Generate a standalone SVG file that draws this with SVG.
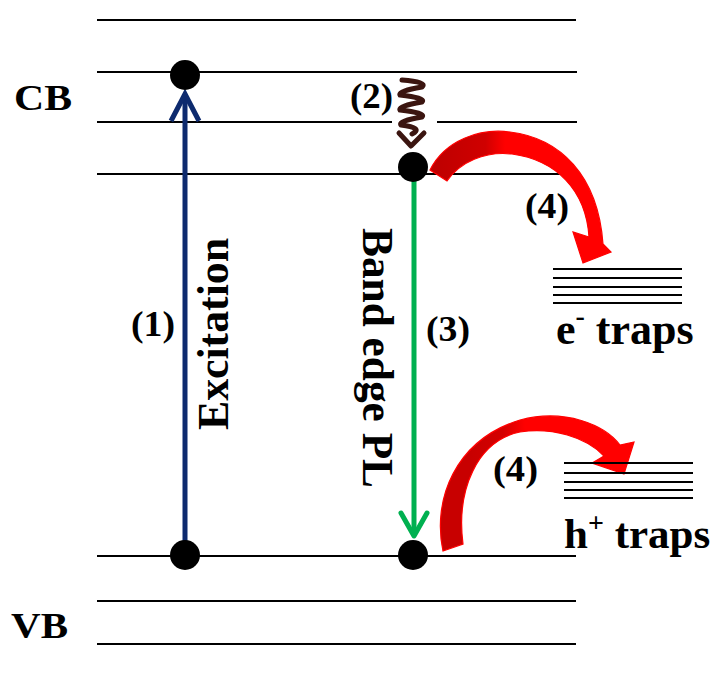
<svg xmlns="http://www.w3.org/2000/svg" width="716" height="686" viewBox="0 0 716 686">
  <style>
    .lvl { stroke: #000; stroke-width: 1.8; fill: none; }
    .trap { stroke: #000; stroke-width: 2; fill: none; }
    .dot { fill: #000; }
    .lbl { font-family: "Liberation Serif", "Times New Roman", serif; font-weight: bold; fill: #000; }
  </style>
  <defs>
    <linearGradient id="redUp" gradientUnits="userSpaceOnUse" x1="440" y1="0" x2="505" y2="0">
      <stop offset="0" stop-color="#c00000"/>
      <stop offset="0.7" stop-color="#d00000"/>
      <stop offset="1" stop-color="#ff0000"/>
    </linearGradient>
    <linearGradient id="redLow" gradientUnits="userSpaceOnUse" x1="470" y1="0" x2="525" y2="0">
      <stop offset="0" stop-color="#c80000"/>
      <stop offset="0.6" stop-color="#d40000"/>
      <stop offset="1" stop-color="#ff0000"/>
    </linearGradient>
  </defs>

  <!-- energy levels -->
  <g id="levels">
    <line class="lvl" x1="97" y1="20" x2="576" y2="20"/>
    <line class="lvl" x1="97" y1="72" x2="577" y2="72"/>
    <line class="lvl" x1="97" y1="122" x2="392" y2="122"/>
    <line class="lvl" x1="437" y1="122" x2="577" y2="122"/>
    <line class="lvl" x1="97" y1="174" x2="577" y2="174"/>
    <line class="lvl" x1="97" y1="556" x2="576" y2="556"/>
    <line class="lvl" x1="97" y1="601" x2="576" y2="601"/>
    <line class="lvl" x1="97" y1="644" x2="576" y2="644"/>
  </g>

  <g id="band-labels">
    <text class="lbl" x="14" y="110" font-size="36" textLength="58" lengthAdjust="spacingAndGlyphs">CB</text>
    <text class="lbl" x="11" y="638" font-size="36" textLength="57" lengthAdjust="spacingAndGlyphs">VB</text>
  </g>

  <!-- transitions -->
  <g id="connectors">
    <g id="excitation">
      <line x1="185" y1="556" x2="185" y2="96" stroke="#0d2a6e" stroke-width="5"/>
      <polyline points="171,121 185,94 199,121" fill="none" stroke="#0d2a6e" stroke-width="5" stroke-linejoin="miter"/>
    </g>
    <g id="band-edge-pl">
      <line x1="414" y1="180" x2="414" y2="535" stroke="#00b050" stroke-width="5"/>
      <polyline points="401,513 414,536 427,513" fill="none" stroke="#00b050" stroke-width="5" stroke-linecap="round" stroke-linejoin="round"/>
    </g>
    <g id="relaxation">
      <path d="M402,80 Q428,82 422,87 Q398,91 400,95 Q426,98 422,102 Q398,106 400,110 Q426,113 422,117 Q398,121 401,125 Q424,128 412,134" fill="none" stroke="#3b1510" stroke-width="5" stroke-linecap="round"/>
      <polyline points="399,133 411,146 424,133" fill="none" stroke="#3b1510" stroke-width="5" stroke-linecap="round" stroke-linejoin="round"/>
    </g>
    <g id="trap-electron">
      <path d="M430,170 C445,140 480,128 510,132 C560,138 598,175 603,244 L611,252 L583,263 L573,232 L589,237 C586,190 556,160 512,154 C485,151 460,162 447,181 Z" fill="url(#redUp)" stroke="#ff0000" stroke-width="1.2"/>
    </g>
    <g id="trap-hole">
      <path d="M443,551 C432,500 455,440 520,420 C565,408 605,425 620,445 L634,442 L624,474 L592,463 L604,456 C586,437 552,427 520,432 C477,441 456,490 463,544 Z" fill="url(#redLow)" stroke="#ff0000" stroke-width="1.2"/>
    </g>
  </g>

  <!-- carriers -->
  <g id="carriers">
    <circle class="dot" cx="185" cy="75" r="15"/>
    <circle class="dot" cx="413" cy="167" r="15"/>
    <circle class="dot" cx="185" cy="555" r="15"/>
    <circle class="dot" cx="413" cy="555" r="15"/>
  </g>

  <g id="step-labels">
    <text class="lbl" x="131" y="336" font-size="35" textLength="44" lengthAdjust="spacingAndGlyphs">(1)</text>
    <text class="lbl" x="350" y="108" font-size="35" textLength="43" lengthAdjust="spacingAndGlyphs">(2)</text>
    <text class="lbl" x="426" y="341" font-size="35" textLength="44" lengthAdjust="spacingAndGlyphs">(3)</text>
    <text class="lbl" x="525" y="218" font-size="35" textLength="44" lengthAdjust="spacingAndGlyphs">(4)</text>
    <text class="lbl" x="493" y="481" font-size="35" textLength="45" lengthAdjust="spacingAndGlyphs">(4)</text>
    <text class="lbl" font-size="44" transform="translate(228,430) rotate(-90)" textLength="192" lengthAdjust="spacingAndGlyphs">Excitation</text>
    <text class="lbl" font-size="44" transform="translate(363,228) rotate(90)" textLength="260" lengthAdjust="spacingAndGlyphs">Band edge PL</text>
  </g>

  <g id="electron-traps">
    <line class="trap" x1="553" y1="269" x2="682" y2="269"/>
    <line class="trap" x1="553" y1="278" x2="682" y2="278"/>
    <line class="trap" x1="553" y1="287" x2="682" y2="287"/>
    <line class="trap" x1="553" y1="295" x2="682" y2="295"/>
    <line class="trap" x1="553" y1="303" x2="682" y2="303"/>
    <text class="lbl" x="556" y="344" font-size="44">e<tspan font-size="28" dy="-19">-</tspan><tspan dy="19"> traps</tspan></text>
  </g>

  <g id="hole-traps">
    <line class="trap" x1="564" y1="463" x2="693" y2="463"/>
    <line class="trap" x1="564" y1="473" x2="693" y2="473"/>
    <line class="trap" x1="564" y1="482" x2="693" y2="482"/>
    <line class="trap" x1="564" y1="490" x2="693" y2="490"/>
    <line class="trap" x1="564" y1="498" x2="693" y2="498"/>
    <text class="lbl" x="564" y="548" font-size="43">h<tspan font-size="28" dy="-16">+</tspan><tspan dy="16"> traps</tspan></text>
  </g>
</svg>
